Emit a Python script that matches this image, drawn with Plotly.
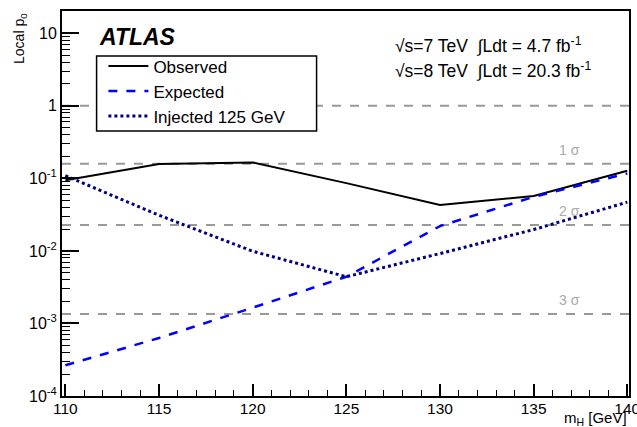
import math
import plotly.graph_objects as go

mass = [110, 115, 120, 125, 130, 135, 140]
observed = [0.094, 0.158, 0.166, 0.086, 0.043, 0.057, 0.127]
expected = [2.65e-4, 6.3e-4, 1.65e-3, 4.4e-3, 0.022, 0.0556, 0.117]
injected = [0.109, 0.031, 0.0099, 0.0044, 0.0092, 0.0197, 0.047]

sigma_levels = [1.0, 0.1587, 0.02275, 0.00135]
sigma_labels = ["", "1 σ", "2 σ", "3 σ"]

xtick_vals = [110, 115, 120, 125, 130, 135, 140]
ytick_vals = [1e-4, 1e-3, 1e-2, 1e-1, 1, 10]
ytick_text = ["10<sup>-4</sup>", "10<sup>-3</sup>", "10<sup>-2</sup>", "10<sup>-1</sup>", "1", "10"]

FONT = "Liberation Sans, Arial, sans-serif"

fig = go.Figure()
fig.add_trace(go.Scatter(x=mass, y=observed, mode="lines", name="Observed",
                         line=dict(color="black", width=2)))
fig.add_trace(go.Scatter(x=mass, y=expected, mode="lines", name="Expected",
                         line=dict(color="#0000ff", width=2.5, dash="dash")))
fig.add_trace(go.Scatter(x=mass, y=injected, mode="lines", name="Injected 125 GeV",
                         line=dict(color="#000080", width=3, dash="dot")))

for lvl, lab in zip(sigma_levels, sigma_labels):
    fig.add_shape(type="line", xref="paper", x0=0, x1=1, yref="y", y0=lvl, y1=lvl,
                  line=dict(color="#999999", width=2, dash="dash"), layer="below")
    if lab:
        fig.add_annotation(x=136.9, y=math.log10(lvl), xref="x", yref="y", text=lab, showarrow=False,
                           yanchor="bottom", yshift=4,
                           font=dict(family=FONT, size=14, color="#aaaaaa"))

# legend frame
fig.add_shape(type="rect", xref="paper", yref="paper", x0=0.061, x1=0.449, y0=0.688, y1=0.883,
              line=dict(color="black", width=1.5), fillcolor="white", layer="below")

fig.add_annotation(x=0.061, y=0.932, xref="paper", yref="paper", text="<b><i>ATLAS</i></b>",
                   showarrow=False, xanchor="left", yanchor="middle",
                   font=dict(family=FONT, size=23, color="black"))
fig.add_annotation(x=0.583, y=0.912, xref="paper", yref="paper",
                   text="√s=7 TeV  ∫Ldt = 4.7 fb<sup>-1</sup>",
                   showarrow=False, xanchor="left", yanchor="middle",
                   font=dict(family=FONT, size=17.5, color="black"))
fig.add_annotation(x=0.583, y=0.847, xref="paper", yref="paper",
                   text="√s=8 TeV  ∫Ldt = 20.3 fb<sup>-1</sup>",
                   showarrow=False, xanchor="left", yanchor="middle",
                   font=dict(family=FONT, size=17.5, color="black"))

fig.update_layout(
    width=637, height=427,
    margin=dict(l=62, r=8, t=11, b=31, autoexpand=False),
    paper_bgcolor="white", plot_bgcolor="white",
    font=dict(family=FONT, size=16, color="black"),
    showlegend=True,
    legend=dict(x=0.073, y=0.903, xanchor="left", yanchor="top",
                borderwidth=0, bgcolor="rgba(0,0,0,0)",
                font=dict(family=FONT, size=17), tracegroupgap=0,
                itemwidth=40),
    xaxis=dict(range=[109.82, 140.09], tickmode="array", tickvals=xtick_vals,
               ticktext=[str(v) for v in xtick_vals],
               ticks="inside", ticklen=12, tickwidth=1.5, tickcolor="black",
               minor=dict(ticks="inside", ticklen=6, dtick=1, tickcolor="black", tickwidth=1.2),
               showline=True, linecolor="black", linewidth=2, mirror=True,
               showgrid=False, zeroline=False, ticklabeloverflow="allow",
               ticklabelstandoff=-3, automargin=False,
               tickfont=dict(family=FONT, size=15.5)),
    yaxis=dict(type="log", range=[-4, 1.307], tickmode="array", tickvals=ytick_vals, ticktext=ytick_text,
               ticks="inside", ticklen=17, tickwidth=1.5, tickcolor="black",
               minor=dict(ticks="inside", ticklen=8, tickcolor="black", tickwidth=1.2, dtick="D1"),
               showline=True, linecolor="black", linewidth=2, mirror=True,
               showgrid=False, zeroline=False, automargin=False,
               tickfont=dict(family=FONT, size=16)),
)

fig.add_annotation(x=1.0, y=-0.028, xref="paper", yref="paper", text="m<sub>H</sub> [GeV]",
                   showarrow=False, xanchor="right", yanchor="top",
                   font=dict(family=FONT, size=15, color="black"))
fig.add_annotation(x=-0.075, y=1.0, xref="paper", yref="paper", text="Local p<sub>0</sub>",
                   showarrow=False, xanchor="center", yanchor="top", textangle=-90,
                   font=dict(family=FONT, size=14, color="black"))

fig.write_html("out.html", config={"displayModeBar": False},
               post_script="document.body.style.margin='0';")
